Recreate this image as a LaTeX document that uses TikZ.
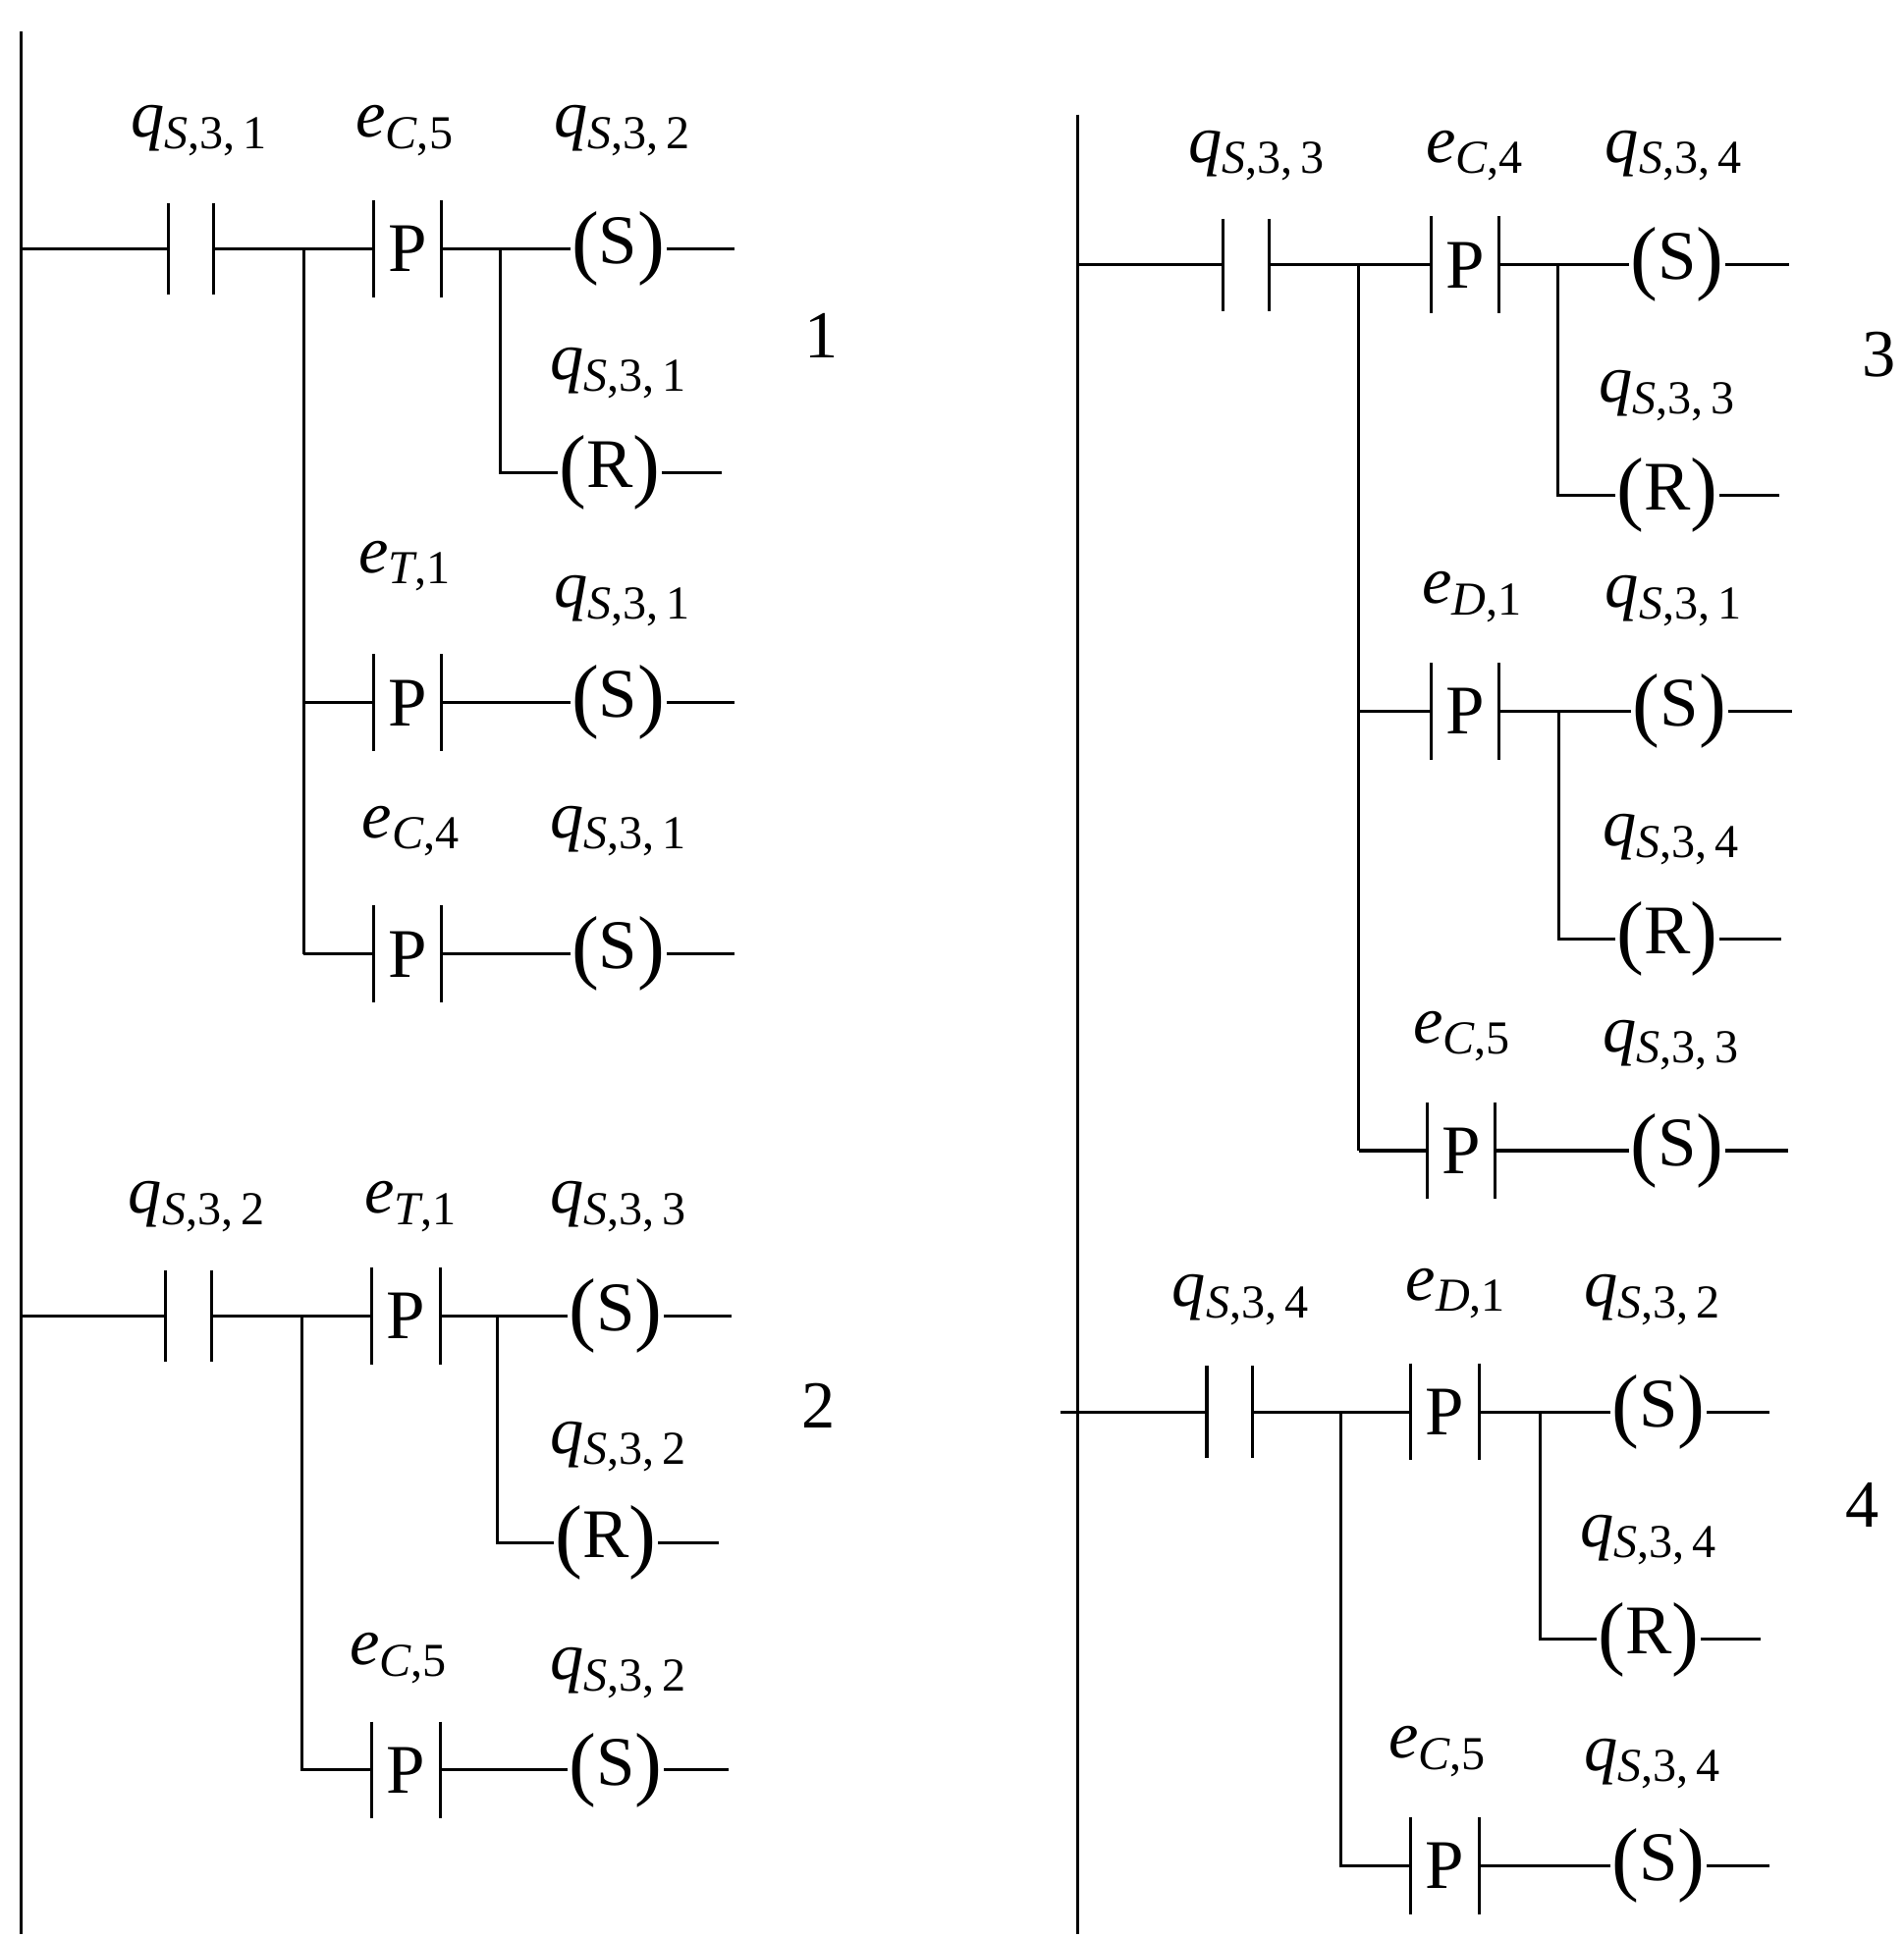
\documentclass[tikz,border=0pt]{standalone}
\usepackage{fontspec}
\setmainfont{Liberation Serif}
\begin{document}
\newcommand\lab[3]{\textit{#1}{\fontsize{38}{38}\selectfont\raisebox{-9pt}{\textit{#2},#3}}}
\newcommand\bigp[1]{{\fontsize{66}{66}\selectfont\raisebox{-4pt}{#1}}}
\begin{tikzpicture}[x=1pt,y=-1pt,line width=2.4pt,
  txt/.style={inner sep=0pt,font=\fontsize{56}{60}\selectfont},
  lb/.style={inner sep=0pt,font=\fontsize{54}{58}\selectfont}]
\newcommand\pcon[3]{%
  \draw (#2,#3-39) -- (#2,#3+39); \draw (#2+55,#3-39) -- (#2+55,#3+39);
  \node[txt] (#1) at (#2+27.5,#3) {P};
  \coordinate (#1l) at (#2,#3); \coordinate (#1r) at (#2+55,#3);}
\newcommand\ncon[3]{%
  \draw (#2,#3-37) -- (#2,#3+37); \draw (#2+37,#3-37) -- (#2+37,#3+37);
  \coordinate (#1l) at (#2,#3); \coordinate (#1r) at (#2+37,#3);}
\newcommand\coil[5]{% name, x, y, letter, right end x
  \node[txt] (#1) at (#2,#3) {\bigp{(}#4\bigp{)}};
  \coordinate (#1e) at (#5,#3);
  \draw (#1.east) -- (#1e);}
\useasboundingbox (0,0) rectangle (1530,1558);
% rails
\coordinate (r1a) at (17,25); \coordinate (r1b) at (17,1555);
\draw (r1a) -- (r1b);
\coordinate (r2a) at (866,92); \coordinate (r2b) at (866,1555);
\draw (r2a) -- (r2b);
% ---------- block 1
\coordinate (a0) at (17,200);
\ncon{a1}{135}{200}
\coordinate (ab) at (244,200);
\pcon{a2}{300}{200}
\coordinate (ac) at (402,200);
\coil{a3}{497}{200}{S}{590}
\coil{a4}{490}{380}{R}{580}
\coordinate (ac2) at (402,380);
\pcon{a5}{300}{565} \coil{a6}{497}{565}{S}{590}
\pcon{a7}{300}{767} \coil{a8}{497}{767}{S}{590}
\coordinate (ab2) at (244,565); \coordinate (ab3) at (244,767);
\draw (a0) -- (a1l); \draw (a1r) -- (ab) -- (a2l); \draw (a2r) -- (ac) -- (a3.west);
\draw (ac) -- (ac2) -- (a4.west);
\draw (ab) -- (ab3); \draw (ab2) -- (a5l); \draw (a5r) -- (a6.west);
\draw (ab3) -- (a7l); \draw (a7r) -- (a8.west);
\node[lb] at (160,105) {\lab{q}{S}{3,\,1}};
\node[lb] at (325,105) {\lab{e}{C}{5}};
\node[lb] at (500,105) {\lab{q}{S}{3,\,2}};
\node[lb] at (497,300) {\lab{q}{S}{3,\,1}};
\node[lb] at (325,455) {\lab{e}{T}{1}};
\node[lb] at (500,483) {\lab{q}{S}{3,\,1}};
\node[lb] at (330,668) {\lab{e}{C}{4}};
\node[lb] at (497,668) {\lab{q}{S}{3,\,1}};
\node[lb] (n1) at (660,270) {1};
% ---------- block 2
\coordinate (b0) at (17,1058);
\ncon{b1}{133}{1058}
\coordinate (bb) at (243,1058);
\pcon{b2}{299}{1058}
\coordinate (bc) at (400,1058);
\coil{b3}{495}{1058}{S}{588}
\coil{b4}{487}{1240}{R}{578}
\coordinate (bc2) at (400,1240);
\pcon{b5}{299}{1423} \coil{b6}{495}{1423}{S}{586}
\coordinate (bb2) at (243,1423);
\draw (b0) -- (b1l); \draw (b1r) -- (bb) -- (b2l); \draw (b2r) -- (bc) -- (b3.west);
\draw (bc) -- (bc2) -- (b4.west);
\draw (bb) -- (bb2) -- (b5l); \draw (b5r) -- (b6.west);
\node[lb] at (158,970) {\lab{q}{S}{3,\,2}};
\node[lb] at (330,970) {\lab{e}{T}{1}};
\node[lb] at (497,970) {\lab{q}{S}{3,\,3}};
\node[lb] at (497,1163) {\lab{q}{S}{3,\,2}};
\node[lb] at (320,1333) {\lab{e}{C}{5}};
\node[lb] at (497,1345) {\lab{q}{S}{3,\,2}};
\node[lb] (n2) at (658,1130) {2};
% ---------- block 3
\coordinate (c0) at (866,213);
\ncon{c1}{983}{213}
\coordinate (cb) at (1092,213);
\pcon{c2}{1150}{213}
\coordinate (cc) at (1252,213);
\coil{c3}{1348}{213}{S}{1438}
\coil{c4}{1340}{398}{R}{1430}
\coordinate (cc2) at (1252,398);
\pcon{c5}{1150}{572} \coil{c6}{1350}{572}{S}{1440}
\coordinate (cd) at (1253,572); \coordinate (cd2) at (1253,755);
\coil{c7}{1340}{755}{R}{1432}
\pcon{c8}{1147}{925} \coil{c9}{1348}{925}{S}{1437}
\coordinate (cb2) at (1092,572); \coordinate (cb3) at (1092,925);
\draw (c0) -- (c1l); \draw (c1r) -- (cb) -- (c2l); \draw (c2r) -- (cc) -- (c3.west);
\draw (cc) -- (cc2) -- (c4.west);
\draw (cb) -- (cb3); \draw (cb2) -- (c5l); \draw (c5r) -- (cd) -- (c6.west);
\draw (cd) -- (cd2) -- (c7.west);
\draw (cb3) -- (c8l); \draw (c8r) -- (c9.west);
\node[lb] at (1010,125) {\lab{q}{S}{3,\,3}};
\node[lb] at (1185,125) {\lab{e}{C}{4}};
\node[lb] at (1345,125) {\lab{q}{S}{3,\,4}};
\node[lb] at (1340,318) {\lab{q}{S}{3,\,3}};
\node[lb] at (1183,480) {\lab{e}{D}{1}};
\node[lb] at (1345,483) {\lab{q}{S}{3,\,1}};
\node[lb] at (1343,675) {\lab{q}{S}{3,\,4}};
\node[lb] at (1175,833) {\lab{e}{C}{5}};
\node[lb] at (1343,840) {\lab{q}{S}{3,\,3}};
\node[lb] (n3) at (1510,285) {3};
% ---------- block 4
\coordinate (d0) at (852,1135);
\ncon{d1}{970}{1135}
\coordinate (db) at (1078,1135);
\pcon{d2}{1134}{1135}
\coordinate (dc) at (1238,1135);
\coil{d3}{1333}{1135}{S}{1422}
\coil{d4}{1325}{1318}{R}{1415}
\coordinate (dc2) at (1238,1318);
\pcon{d5}{1134}{1500} \coil{d6}{1333}{1500}{S}{1422}
\coordinate (db2) at (1078,1500);
\draw (d0) -- (d1l); \draw (d1r) -- (db) -- (d2l); \draw (d2r) -- (dc) -- (d3.west);
\draw (dc) -- (dc2) -- (d4.west);
\draw (db) -- (db2) -- (d5l); \draw (d5r) -- (d6.west);
\node[lb] at (997,1045) {\lab{q}{S}{3,\,4}};
\node[lb] at (1170,1040) {\lab{e}{D}{1}};
\node[lb] at (1328,1045) {\lab{q}{S}{3,\,2}};
\node[lb] at (1325,1238) {\lab{q}{S}{3,\,4}};
\node[lb] at (1155,1408) {\lab{e}{C}{5}};
\node[lb] at (1328,1418) {\lab{q}{S}{3,\,4}};
\node[lb] (n4) at (1497,1210) {4};
\end{tikzpicture}
\end{document}
